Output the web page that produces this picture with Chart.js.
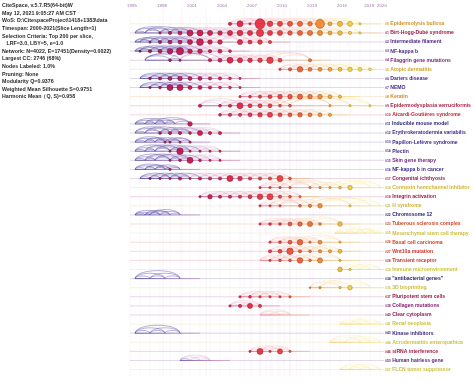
<!DOCTYPE html>
<html>
<head>
<meta charset="utf-8">
<script src="https://cdn.jsdelivr.net/npm/chart.js@4.4.1/dist/chart.umd.min.js"></script>
<style>
html, body { margin: 0; padding: 0; background: #fff; }
#wrap { width: 474px; height: 382px; }
</style>
</head>
<body>
<div id="wrap"><canvas id="timeline" width="474" height="382"></canvas></div>
<script>
// cluster labels (one row each, top to bottom)
const clusterIds = [0, 1, 2, 3, 4, 5, 6, 7, 8, 9, 10, 11, 12, 13, 14, 15, 16, 17, 18, 19, 21, 22, 23, 25, 26, 27, 28, 29, 34, 35, 37, 38, 40, 41, 43, 44, 46, 53, 57];
const clusterNames = [
    'Epidermolysis bullosa', 'Birt-Hogg-Dubé syndrome', 'Intermediate filament', 'NF-kappa b',
    'Filaggrin gene mutations', 'Atopic dermatitis', 'Dariers disease', 'NEMO', 'Keratin',
    'Epidermodysplasia verruciformis', 'Aicardi-Goutières syndrome', 'Inducible mouse model',
    'Erythrokeratodermia variabilis', 'Papillon-Lefèvre syndrome', 'Plectin', 'Skin gene therapy',
    'NF-kappa b in cancer', 'Congenital ichthyosis', 'Connexin hemichannel inhibitor',
    'Integrin activation', 'H syndrome', 'Chromosome 12', 'Tuberous sclerosis complex',
    'Mesenchymal stem cell therapy', 'Basal cell carcinoma', 'Wnt10a mutation', 'Transient receptor',
    'Immune microenvironment', '"antibacterial genes"', '3D bioprinting', 'Pluripotent stem cells',
    'Collagen mutations', 'Clear cytoplasm', 'Renal neoplasia', 'Kinase inhibitors',
    'Acrodermatitis enteropathica', 'siRNA interference', 'Human hairless gene', 'FLCN tumor suppressor'
];
// mean publication year of each cluster (drives label colour)
const clusterMeanYears = [
    2014, 2004, 1999, 1998.5, 2001, 2015, 1998.5, 1998.5, 2013.5, 2005.5, 2008, 1996.8, 1998.5,
    1998.2, 1998.5, 2001, 1998, 2003, 2016, 2004.5, 2016, 1996.5, 2011, 2018, 2011, 2009.5, 2009.5,
    2018, 1996.5, 2017.5, 2003.5, 2002, 2003, 2018, 1997.5, 2018, 2005, 1999.5, 2018
];

// nodes per cluster: year and citation count (0 = link point only)
const nodeYears = [
    [2005, 2006, 2007, 2008, 2009, 2010, 2011, 2012, 2013, 2014, 2015, 2016, 2017, 2018],
    [1995.5, 1996.5, 1998, 1999, 2000, 2001, 2002, 2003, 2004, 2005, 2006, 2007, 2008, 2009, 2010, 2011, 2012, 2013, 2014, 2015, 2016, 2017, 2018],
    [1995.5, 1996, 1997, 1998, 1999, 2000, 2001, 2002, 2003, 2004, 2006, 2007, 2008, 2009],
    [1995.5, 1996, 1997, 1998, 1999, 2000, 2001, 2002, 2003, 2004, 2005],
    [1996.5, 1999, 2000, 2003, 2004, 2005, 2006, 2007, 2008, 2009, 2010, 2013],
    [2010, 2011, 2012, 2013, 2014, 2015, 2016, 2017, 2018, 2019],
    [1996, 1997, 1998, 1999, 2000, 2001, 2002, 2003, 2004, 2005, 2006],
    [1996, 1997, 1998, 1999, 2000, 2001, 2002, 2003, 2004, 2005, 2006],
    [2006, 2007, 2008, 2009, 2010, 2011, 2012, 2013, 2014, 2015, 2016],
    [2002, 2004, 2005, 2006, 2007, 2008, 2009, 2010, 2011, 2015, 2017, 2019],
    [2004, 2005, 2006, 2007, 2008, 2009, 2010, 2011, 2012, 2013, 2014, 2015],
    [1995.5, 1996.5, 1997.5, 1998.5, 1999.5, 2001],
    [1995.5, 1996.5, 1998, 1999, 2000, 2001, 2002, 2003, 2004],
    [1995.5, 1996.5, 1997.5, 1998.5, 1999, 2000, 2001],
    [1995.5, 1996.5, 1997.5, 1999, 2000, 2001, 2002, 2003, 2004],
    [1995.5, 1996.5, 1997.5, 1999, 2000, 2001, 2002, 2003, 2004],
    [1995.5, 1996.5, 1997.5, 1998.5, 1999, 2000],
    [1996, 1997, 1998, 1999, 2000, 2001, 2002, 2003, 2004, 2005, 2006, 2007, 2008, 2009, 2010, 2011],
    [2008, 2009, 2010, 2011, 2013, 2014, 2015, 2016, 2017, 2019, 2020],
    [2002, 2003, 2004, 2005, 2006, 2007, 2008, 2009, 2010, 2011, 2012],
    [2008, 2009, 2010, 2012, 2013, 2014, 2017, 2019, 2020],
    [1995.5, 1996.5, 1997, 1998, 1999, 2000],
    [2008, 2009, 2010, 2011, 2012, 2013, 2014, 2016],
    [2015.5, 2016.5, 2017.5, 2018.5, 2019.5, 2020],
    [2009, 2010, 2011, 2012, 2013, 2014, 2016],
    [2009, 2010, 2011, 2012, 2013, 2014, 2015, 2016],
    [2008, 2009, 2010, 2011, 2012, 2013, 2014, 2016],
    [2016, 2017, 2018, 2019, 2020],
    [1995.5, 1997, 1998.5, 2000],
    [2013, 2014, 2016, 2017, 2019],
    [2006, 2007, 2008, 2009, 2010, 2011],
    [2005, 2006, 2007, 2008],
    [2008, 2009, 2010, 2011],
    [2016, 2017, 2018, 2019, 2020],
    [1995.5, 1997, 1998.5, 2000],
    [2015, 2016.5, 2018, 2019, 2020],
    [2007, 2008, 2009, 2010, 2011],
    [2000, 2001, 2002, 2003],
    [2016, 2017, 2018, 2019, 2020]
];
const nodeCounts = [
    [4, 14, 2, 39, 12, 10, 10, 10, 8, 32, 6, 10, 10, 2],
    [0, 0, 2, 4, 6, 14, 14, 10, 8, 10, 12, 10, 20, 10, 10, 8, 10, 10, 10, 6, 8, 4, 2],
    [0, 0, 2, 4, 6, 6, 10, 18, 8, 8, 10, 6, 8, 4],
    [0, 2, 4, 6, 12, 20, 8, 8, 4, 6, 3],
    [0, 3, 2, 4, 6, 14, 10, 8, 8, 16, 6, 4],
    [2, 4, 12, 6, 6, 6, 6, 8, 6, 3],
    [0, 3, 4, 6, 8, 6, 6, 4, 4, 3, 2],
    [0, 2, 3, 14, 14, 6, 6, 4, 3, 3, 2],
    [2, 3, 4, 6, 8, 8, 10, 8, 8, 6, 4],
    [4, 3, 4, 14, 6, 6, 6, 3, 3, 2, 2, 2],
    [3, 4, 4, 6, 8, 10, 6, 6, 8, 6, 6, 4],
    [0, 0, 0, 0, 0, 8],
    [0, 0, 3, 4, 4, 3, 10, 4, 4],
    [0, 0, 0, 2, 2, 2, 2],
    [0, 0, 0, 2, 16, 2, 2, 2, 2],
    [0, 0, 0, 2, 3, 14, 3, 2, 2],
    [0, 0, 0, 0, 2, 0],
    [0, 2, 2, 2, 4, 2, 4, 4, 4, 14, 8, 4, 4, 4, 14, 3],
    [2, 2, 2, 2, 2, 2, 2, 3, 8, 0, 0],
    [2, 8, 4, 4, 4, 6, 12, 14, 4, 3, 2],
    [2, 2, 2, 3, 4, 8, 2, 0, 0],
    [0, 0, 0, 0, 0, 0],
    [2, 3, 3, 6, 8, 10, 3, 8],
    [0, 0, 0, 0, 0, 0],
    [2, 3, 6, 12, 2, 6, 2],
    [4, 6, 16, 4, 3, 4, 4, 6],
    [0, 2, 3, 3, 12, 3, 10, 2],
    [8, 2, 0, 0, 0],
    [0, 0, 0, 0],
    [1, 2, 2, 8, 0],
    [2, 3, 2, 2, 2, 2],
    [2, 4, 10, 4],
    [0, 0, 0, 0],
    [0, 0, 0, 0, 0],
    [0, 0, 0, 0],
    [0, 0, 0, 0, 0],
    [2, 14, 2, 10, 2],
    [0, 0, 0, 0],
    [0, 0, 0, 0, 0]
];

const tickYears = [1995, 1998, 2001, 2004, 2007, 2010, 2013, 2016, 2019, 2020];
// years where co-citation links cross between clusters
const citationLinkYears = [1998.3, 2000.2, 2002.6, 2006.4, 2007.2, 2008, 2008.6, 2009.2, 2009.8, 2010.4, 2011, 2011.7, 2013.3];

const infoLines = [
    'CiteSpace, v.5.7.R5(64-bit)W',
    'May 12, 2021 9:05:27 AM CST',
    'WoS: D:\\CitespaceProject\\1418+1383\\data',
    'Timespan: 2000-2021(Slice Length=1)',
    'Selection Criteria: Top 200 per slice,',
    '   LRF=3.0, LBY=5, e=1.0',
    'Network: N=4022, E=17451(Density=0.0022)',
    'Largest CC: 2746 (68%)',
    'Nodes Labeled: 1.0%',
    'Pruning: None',
    'Modularity Q=0.9376',
    'Weighted Mean Silhouette S=0.9751',
    'Harmonic Mean（Q, S)=0.958'
];

// colour ramps by year
const labelStops = [[1995, [26, 26, 80]], [1998, [58, 42, 140]], [2001, [118, 30, 124]], [2004, [156, 22, 70]], [2008, [196, 36, 52]], [2011, [206, 70, 34]], [2013.5, [208, 138, 34]], [2016, [208, 178, 50]], [2019, [200, 200, 66]]];
const nodeStops = [[1995, [110, 30, 120]], [1998, [170, 24, 92]], [2002, [204, 24, 76]], [2006, [226, 36, 68]], [2010, [236, 60, 62]], [2013, [240, 110, 48]], [2015, [242, 160, 48]], [2017, [244, 206, 64]], [2020, [244, 228, 96]]];
const arcStops = [[1995, [60, 60, 160]], [2000, [100, 75, 165]], [2003, [190, 90, 170]], [2007, [230, 100, 140]], [2011, [240, 130, 100]], [2014, [245, 175, 80]], [2017, [245, 220, 90]]];

function ramp(stops, year) {
    if (year <= stops[0][0]) return stops[0][1];
    for (let i = 1; i < stops.length; i++) {
        if (year <= stops[i][0]) {
            const t = (year - stops[i - 1][0]) / (stops[i][0] - stops[i - 1][0]);
            return stops[i - 1][1].map((v, k) => Math.round(v + (stops[i][1][k] - v) * t));
        }
    }
    return stops[stops.length - 1][1];
}
const rgba = (c, a) => `rgba(${c[0]},${c[1]},${c[2]},${a})`;

const points = [];
nodeYears.forEach((years, row) => {
    years.forEach((yr, i) => {
        const n = nodeCounts[row][i];
        points.push({ x: yr, y: row, r: n ? 0.8 * Math.sqrt(n) : 0 });
    });
});

const timelinePlugin = {
    id: 'timeline',
    beforeDatasetsDraw(chart) {
        const { ctx, scales: { x, y }, chartArea } = chart;
        ctx.save();
        // faint year grid and cross-cluster links
        for (let yr = 1995; yr <= 2020; yr++) {
            ctx.strokeStyle = 'rgba(225,190,220,0.2)';
            ctx.lineWidth = 0.6;
            ctx.beginPath();
            ctx.moveTo(x.getPixelForValue(yr), chartArea.top);
            ctx.lineTo(x.getPixelForValue(yr), chartArea.bottom);
            ctx.stroke();
        }
        citationLinkYears.forEach(yr => {
            ctx.strokeStyle = 'rgba(215,150,200,0.28)';
            ctx.lineWidth = 0.5;
            ctx.beginPath();
            ctx.moveTo(x.getPixelForValue(yr), 8);
            ctx.lineTo(x.getPixelForValue(yr), chartArea.bottom);
            ctx.stroke();
        });
        // row lines
        nodeYears.forEach((years, row) => {
            const py = y.getPixelForValue(row);
            const lc = ramp(labelStops, clusterMeanYears[row]);
            ctx.strokeStyle = rgba(lc, 0.2);
            ctx.lineWidth = 0.9;
            ctx.beginPath();
            ctx.moveTo(x.getPixelForValue(1995), py);
            ctx.lineTo(x.getPixelForValue(2020.4), py);
            ctx.stroke();
            const y0 = years[0], y1 = Math.min(years[years.length - 1] + 2, 2020.4);
            const x0 = x.getPixelForValue(y0), x1 = x.getPixelForValue(y1);
            const g = ctx.createLinearGradient(x0, 0, x1, 0);
            g.addColorStop(0, rgba(ramp(arcStops, y0), 0.8));
            g.addColorStop(1, rgba(ramp(arcStops, y1), 0.4));
            ctx.strokeStyle = g;
            ctx.lineWidth = 1;
            ctx.beginPath();
            ctx.moveTo(x0, py);
            ctx.lineTo(x1, py);
            ctx.stroke();
            // arcs between nearby nodes
            for (let i = 0; i < years.length; i++) {
                for (let j = i + 1; j < Math.min(years.length, i + 4); j++) {
                    const a = x.getPixelForValue(years[i]), b = x.getPixelForValue(years[j]);
                    const h = Math.min((b - a) * 0.18, 8);
                    const mid = (years[i] + years[j]) / 2;
                    ctx.strokeStyle = rgba(ramp(arcStops, mid), mid < 2001 ? 0.6 : 0.3);
                    ctx.lineWidth = mid < 2001 ? 0.7 : 0.6;
                    ctx.beginPath();
                    ctx.ellipse((a + b) / 2, py, (b - a) / 2, h, 0, Math.PI, 2 * Math.PI);
                    ctx.stroke();
                }
            }
        });
        ctx.restore();
    },
    afterDraw(chart) {
        const { ctx, scales: { x, y } } = chart;
        ctx.save();
        ctx.textBaseline = 'middle';
        // year ticks along the top, nudged apart where they crowd
        ctx.font = '4.4px "Liberation Sans", Arial, sans-serif';
        ctx.fillStyle = '#9c72a8';
        ctx.textAlign = 'center';
        let nextLeft = Infinity;
        for (let k = tickYears.length - 1; k >= 0; k--) {
            const label = String(tickYears[k]);
            const w = ctx.measureText(label).width;
            let cx = x.getPixelForValue(tickYears[k]) + 2;
            if (cx + w / 2 + 3 > nextLeft) cx = nextLeft - 3 - w / 2;
            ctx.fillText(label, cx, 6);
            nextLeft = cx - w / 2;
        }
        // cluster labels
        ctx.textAlign = 'left';
        const lx = x.getPixelForValue(2020.5);
        clusterNames.forEach((name, row) => {
            const py = y.getPixelForValue(row);
            ctx.fillStyle = rgba(ramp(labelStops, clusterMeanYears[row]), 1);
            ctx.font = 'bold 3.4px "Liberation Sans", Arial, sans-serif';
            const tag = '#' + clusterIds[row];
            ctx.fillText(tag, lx, py + 0.3);
            const w = ctx.measureText(tag).width;
            ctx.font = 'bold 5.1px "Liberation Sans", Arial, sans-serif';
            ctx.fillText(name, lx + w + 1.5, py);
        });
        // run information
        ctx.fillStyle = '#2a2a2a';
        ctx.font = 'bold 5.3px "Liberation Sans", Arial, sans-serif';
        infoLines.forEach((line, i) => ctx.fillText(line, 2, 5.8 + i * 7.6));
        ctx.restore();
    }
};

const ctx = document.getElementById('timeline').getContext('2d');
new Chart(ctx, {
    type: 'bubble',
    data: {
        datasets: [{
            data: points,
            clip: false,
            backgroundColor: c => rgba(ramp(nodeStops, c.raw.x), 0.95),
            borderColor: c => rgba(ramp(nodeStops, c.raw.x).map(v => Math.round(v * 0.7)), 1),
            borderWidth: 0.6,
        }],
    },
    options: {
        responsive: false,
        animation: false,
        devicePixelRatio: 1,
        layout: { padding: { left: 130, right: 94, top: 14.3, bottom: 0.1 } },
        plugins: { legend: { display: false }, tooltip: { enabled: false } },
        scales: {
            x: { type: 'linear', min: 1995, max: 2020, display: false },
            y: { type: 'linear', min: -1.05, max: 38.75, reverse: true, display: false }
        }
    },
    plugins: [timelinePlugin]
});
</script>
</body>
</html>
